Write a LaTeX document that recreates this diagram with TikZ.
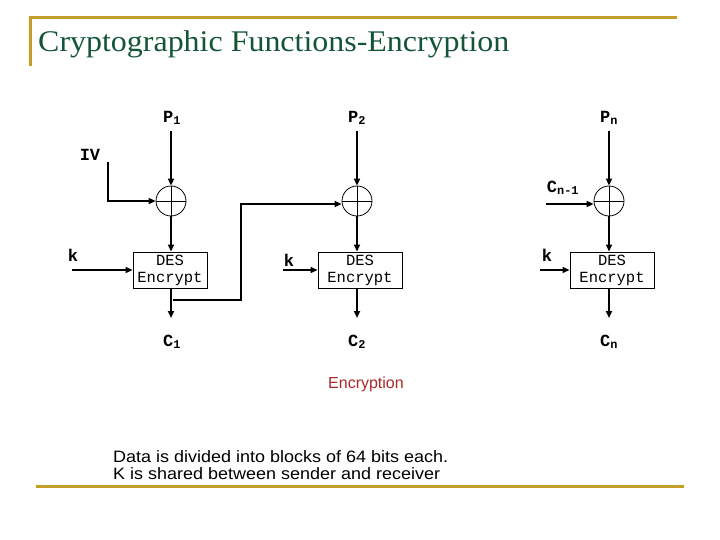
\documentclass[tikz,border=0pt]{standalone}
\usepackage{fontspec}
\setmainfont{Liberation Serif}
\newfontfamily\monofont{Liberation Mono}
\newfontfamily\arialfont{Liberation Sans}
\usetikzlibrary{arrows.meta}
\definecolor{gold}{RGB}{196,158,40}
\definecolor{titlegreen}{RGB}{20,85,55}
\definecolor{encred}{RGB}{170,40,40}
\tikzset{
  arr/.style={line width=1.8pt,-{Triangle[length=7pt,width=6pt]}},
  fb/.style={line width=1.2pt},
  xorc/.style={circle,draw,line width=0.8pt,minimum size=30pt,inner sep=0pt,
    path picture={\draw[line width=0.8pt] (path picture bounding box.north) -- (path picture bounding box.south)
      (path picture bounding box.west) -- (path picture bounding box.east);}},
  desbox/.style={draw,line width=0.9pt,minimum height=36pt,inner sep=0pt,align=center,
    font=\monofont\fontsize{15.5}{17}\selectfont},
  lbl/.style={font=\monofont\bfseries\fontsize{17}{19}\selectfont,inner sep=1pt},
  goldline/.style={gold,line width=3pt},
  bodytext/.style={anchor=base west,inner sep=0pt,font=\arialfont\fontsize{16.5}{18}\selectfont}
}
\begin{document}
\begin{tikzpicture}[x=1pt,y=-1pt]
\useasboundingbox (0,0) rectangle (720,540);
% frame
\draw[goldline] (30,66) -- (30,18) -- (677,18);
\draw[goldline] (36,486) -- (684,486);
\node[anchor=base west,inner sep=0pt,text=titlegreen,font=\fontsize{30}{34}\selectfont] (title) at (38,52) {\scalebox{1.065}[1]{Cryptographic Functions-Encryption}};
% column 1
\node[lbl] (p1) at (172,118) {P\textsubscript{1}};
\node[xorc] (x1) at (171,201) {};
\node[desbox,minimum width=74pt] (d1) at (170,270) {DES\\Encrypt};
\node[lbl] (c1) at (172,342) {C\textsubscript{1}};
\node[lbl] (iv) at (90,155) {IV};
\node[lbl] (k1) at (73,255) {k};
\coordinate (ivt) at (108,162);
\coordinate (k1s) at (72,270);
% column 2
\node[lbl] (p2) at (357,118) {P\textsubscript{2}};
\node[xorc] (x2) at (357,201) {};
\node[desbox,minimum width=84pt] (d2) at (360,270) {DES\\Encrypt};
\node[lbl] (c2) at (357,342) {C\textsubscript{2}};
\node[lbl] (k2) at (289,260) {k};
\coordinate (k2s) at (283,270);
% column 3
\node[lbl] (pn) at (609,118) {P\textsubscript{n}};
\node[xorc] (x3) at (609,201) {};
\node[desbox,minimum width=84pt] (d3) at (612,270) {DES\\Encrypt};
\node[lbl] (cn) at (609,342) {C\textsubscript{n}};
\node[lbl] (cn1) at (563,188) {C\textsubscript{n-1}};
\node[lbl] (k3) at (547,255) {k};
\coordinate (k3s) at (540,270);
\coordinate (cn1s) at (546,204);
% connectors column 1
\draw[arr] (x1.north |- 0,131) -- (x1.north);
\draw[arr] (x1.south) -- (x1.south |- d1.north);
\draw[arr] (x1.south |- d1.south) -- (x1.south |- 0,318);
\draw[arr] (ivt) |- (x1.west);
\draw[arr] (k1s) -- (d1.west |- k1s);
% feedback
\coordinate (fbs) at (173,300);
\draw[fb] (fbs) -- (241,300) -- (241,204);
\draw[arr] (240.4,204) -- (x2.west |- 0,204);
% column 2
\draw[arr] (x2.north |- 0,131) -- (x2.north);
\draw[arr] (x2.south) -- (x2.south |- d2.north);
\draw[arr] (x2.south |- d2.south) -- (x2.south |- 0,318);
\draw[arr] (k2s) -- (d2.west |- k2s);
% column 3
\draw[arr] (x3.north |- 0,131) -- (x3.north);
\draw[arr] (x3.south) -- (x3.south |- d3.north);
\draw[arr] (x3.south |- d3.south) -- (x3.south |- 0,318);
\draw[arr] (k3s) -- (d3.west |- k3s);
\draw[arr] (cn1s) -- (x3.west |- cn1s);
% captions
\node[text=encred,font=\arialfont\fontsize{16}{18}\selectfont] (enc) at (366,384) {Encryption};
\node[bodytext] (d1t) at (113,462) {\scalebox{1.09}[1]{Data is divided into blocks of 64 bits each.}};
\node[bodytext] (d2t) at (113,479) {\scalebox{1.09}[1]{K is shared between sender and receiver}};
\end{tikzpicture}
\end{document}
